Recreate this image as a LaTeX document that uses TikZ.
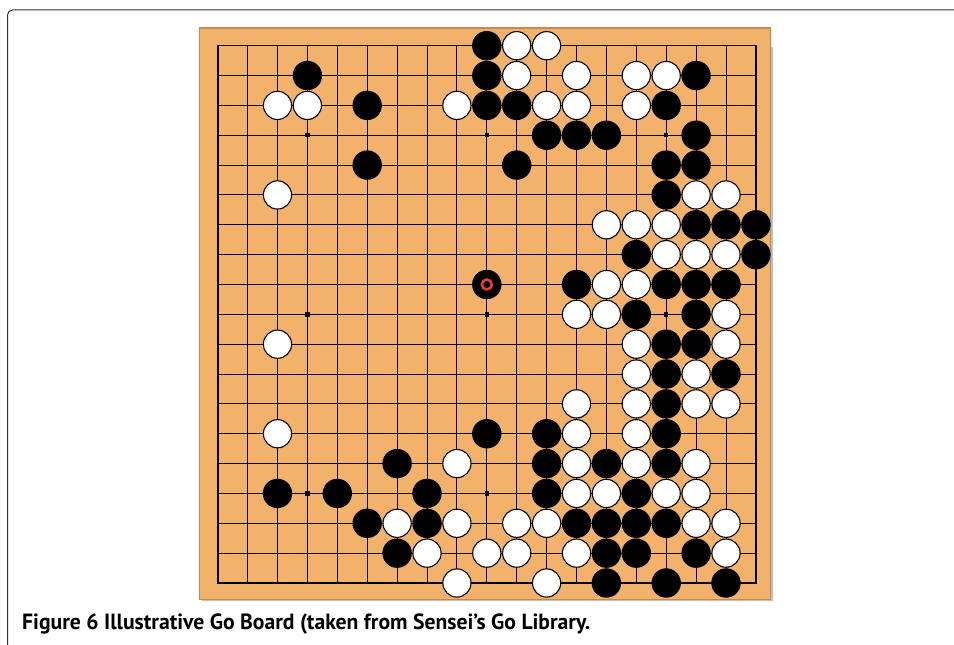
\documentclass[tikz,border=0pt]{standalone}
\usepackage{fontspec}
\usepackage{graphicx}
\usetikzlibrary{calc}
\newfontfamily\capfont{PT Sans}
\definecolor{boardcol}{RGB}{242,178,107}
\definecolor{boardedge}{RGB}{196,138,78}
\definecolor{framecol}{RGB}{50,50,50}
\definecolor{markred}{RGB}{232,62,52}
\tikzset{
  gridline/.style={line width=0.9pt, black},
  blackstone/.style={fill=black},
  whitestone/.style={fill=white, draw=black, line width=1.1pt},
}
\begin{document}
\begin{tikzpicture}[x=1pt,y=1pt]
\useasboundingbox (0,0) rectangle (954,645);
\fill[white] (0,0) rectangle (954,645);
% outer frame
\draw[framecol, line width=1pt, rounded corners=5pt] (7.5,0) -- (7.5,635) -- (954,635);
% board
\fill[black!25] (201.5,43.7) rectangle (772.5,597.5);
\draw[boardedge, fill=boardcol, line width=1.2pt] (199.5,45.7) rectangle (770.5,617);
\begin{scope}[shift={(217.7,599.3)}, x=29.9pt, y=-29.85pt]
  \foreach \i in {1,...,17} {
    \draw[gridline] (\i,0) -- (\i,18);
    \draw[gridline] (0,\i) -- (18,\i);
  }
  \draw[black, line width=1.6pt] (0,0) rectangle (18,18);
  \foreach \a in {3,9,15} \foreach \b in {3,9,15}
    \fill[black] ($(\a,\b)+(-2.2pt,-2.2pt)$) rectangle ($(\a,\b)+(2.2pt,2.2pt)$);
  % black stones  (column/row)
  \foreach \c/\r in {9/0,
    3/1, 9/1, 16/1,
    5/2, 9/2, 10/2, 15/2,
    11/3, 12/3, 13/3, 16/3,
    5/4, 10/4, 15/4, 16/4,
    15/5,
    16/6, 17/6, 18/6,
    14/7, 18/7,
    9/8, 12/8, 15/8, 16/8, 17/8,
    14/9, 16/9,
    15/10, 16/10,
    15/11, 17/11,
    15/12,
    9/13, 11/13, 15/13,
    6/14, 11/14, 13/14, 15/14,
    2/15, 4/15, 7/15, 11/15, 14/15,
    5/16, 7/16, 12/16, 13/16, 14/16, 15/16,
    6/17, 13/17, 14/17, 16/17,
    13/18, 15/18, 17/18}
    \fill[blackstone] (\c,\r) circle[radius=14.7pt];
  % white stones
  \foreach \c/\r in {10/0, 11/0,
    10/1, 12/1, 14/1, 15/1,
    2/2, 3/2, 8/2, 11/2, 12/2, 14/2,
    2/5, 16/5, 17/5,
    13/6, 14/6, 15/6,
    15/7, 16/7, 17/7,
    13/8, 14/8,
    12/9, 13/9, 17/9,
    2/10, 14/10, 17/10,
    14/11, 16/11,
    12/12, 14/12, 16/12, 17/12,
    2/13, 12/13, 14/13,
    8/14, 12/14, 14/14, 16/14,
    12/15, 13/15, 15/15, 16/15,
    6/16, 8/16, 10/16, 11/16, 16/16, 17/16,
    7/17, 9/17, 10/17, 12/17, 17/17,
    8/18, 11/18}
    \draw[whitestone] (\c,\r) circle[radius=14.1pt];
  % last-move marker
  \coordinate (lastmove) at (9,8);
  \draw[markred, line width=2.5pt] (lastmove) circle[radius=5pt];
\end{scope}
% caption
\node[anchor=base west, inner sep=0pt, text=black] (caption) at (22,15)
  {\resizebox{568pt}{\height}{\capfont\fontsize{22}{25}\selectfont\bfseries Figure 6 Illustrative Go Board (taken from Sensei’s Go Library.}};
\end{tikzpicture}
\end{document}
